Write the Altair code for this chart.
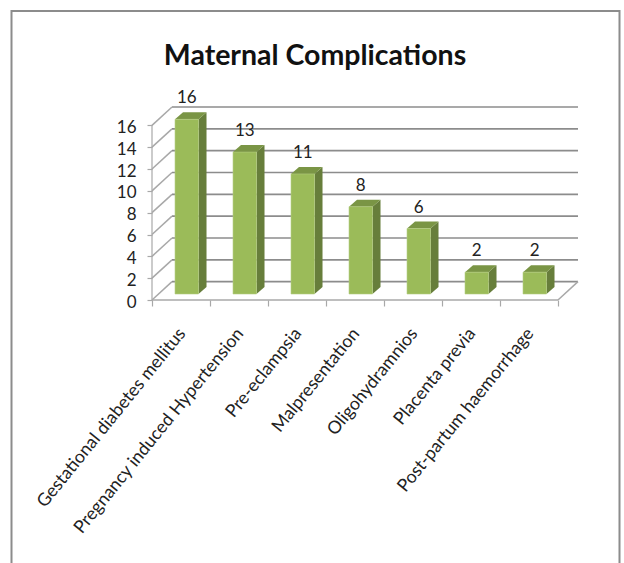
import altair as alt
import pandas as pd

# Maternal complication counts
title_text = "Maternal Complications"
categories = ["Gestational diabetes mellitus", "Pregnancy induced Hypertension", "Pre-eclampsia",
              "Malpresentation", "Oligohydramnios", "Placenta previa", "Post-partum haemorrhage"]
counts = [16, 13, 11, 8, 6, 2, 2]
y_ticks = [0, 2, 4, 6, 8, 10, 12, 14, 16]

# Pseudo-3D box geometry, in data units
WALL_DX, WALL_DY = 0.345, 1.68
BAR_LEFT, BAR_W = 0.397, 0.405
BAR_LIFT, BAR_DX, BAR_DY = 0.55, 0.138, 0.64
n = len(categories)

x_scale = alt.Scale(domain=[0, n + WALL_DX], nice=False, zero=False)
y_scale = alt.Scale(domain=[0, 16 + WALL_DY], nice=False, zero=False)
GRID = "#8c8c8c"
LIGHT = "#a8a8a8"
FONT = "Lato"

x_axis = alt.Axis(values=list(range(n + 1)), labels=False, domain=False, grid=False,
                  tickColor=LIGHT, tickSize=6, tickWidth=1.2)
y_axis = alt.Axis(values=y_ticks, domain=False, grid=False, tickColor=LIGHT, tickSize=5,
                  tickWidth=1.2, labelFont=FONT, labelFontSize=17, labelColor="#222222",
                  labelPadding=11, labelOffset=2)


def X(field="x"):
    return alt.X(field, type="quantitative", scale=x_scale, axis=x_axis, title=None)


def Y(field="y"):
    return alt.Y(field, type="quantitative", scale=y_scale, axis=y_axis, title=None)


# Back-wall gridlines and the slanted segments joining them to the front axis
wall = pd.DataFrame({"y": y_ticks})
wall["x"], wall["x2"] = WALL_DX, n + WALL_DX
wall["y"] = wall["y"] + WALL_DY
back_grid = alt.Chart(wall).mark_rule(color=GRID, strokeWidth=1.6).encode(
    x=X(), x2="x2", y=Y())

slant = pd.DataFrame(
    [{"k": v, "x": 0, "y": v} for v in y_ticks]
    + [{"k": v, "x": WALL_DX, "y": v + WALL_DY} for v in y_ticks]
    + [{"k": "end", "x": n, "y": 0}, {"k": "end", "x": n + WALL_DX, "y": WALL_DY}])
slants = alt.Chart(slant).mark_line(color=LIGHT, strokeWidth=1.5).encode(
    x=X(), y=Y(), detail="k:N")

# Front axes: vertical value axis and the horizontal floor edge
axes_base = alt.Chart(pd.DataFrame({"x": [0], "y": [0], "y2": [16], "x2": [n]}))
front_v = axes_base.mark_rule(color=LIGHT, strokeWidth=1.2).encode(x=X(), y=Y(), y2="y2")
front_h = axes_base.mark_rule(color=LIGHT, strokeWidth=1.6).encode(x=X(), x2="x2", y=Y())

# Bar faces
rows = pd.DataFrame({"name": categories, "v": counts})
rows["l"] = [i + BAR_LEFT for i in range(n)]
rows["r"] = rows["l"] + BAR_W
rows["c"] = rows["l"] + BAR_W / 2
rows["b"] = BAR_LIFT
rows["t"] = rows["v"] + BAR_LIFT
rows["back"] = rows["t"] + BAR_DY
rows["mid"] = [i + 0.5 for i in range(n)]
rows["zero"] = 0

front = alt.Chart(rows).mark_rect(color="#9BBB59", stroke="#b4cc82", strokeWidth=0.6).encode(
    x=X("l"), x2="r", y=Y("b"), y2="t")

side_rows = []
for _, r in rows.iterrows():
    side_rows.append({"k": r["name"], "x": r["r"], "lo": r["b"], "hi": r["t"]})
    side_rows.append({"k": r["name"], "x": r["r"] + BAR_DX, "lo": r["b"] + BAR_DY, "hi": r["back"]})
side = alt.Chart(pd.DataFrame(side_rows)).mark_area(color="#677E3B", orient="vertical").encode(
    x=X(), y=Y("lo"), y2="hi", detail="k:N")

top_rows = []
for _, r in rows.iterrows():
    top_rows.append({"k": r["name"], "y": r["t"], "x": r["l"], "x2": r["r"]})
    top_rows.append({"k": r["name"], "y": r["back"], "x": r["l"] + BAR_DX, "x2": r["r"] + BAR_DX})
top = alt.Chart(pd.DataFrame(top_rows)).mark_area(color="#7A9545", orient="horizontal").encode(
    y=Y(), x=X(), x2="x2", detail="k:N")

value_labels = alt.Chart(rows).mark_text(
    font=FONT, fontSize=17, color="#222222", baseline="middle", dy=-14).encode(
    x=X("c"), y=Y("back"), text="v:Q")

# Rotated text: dx runs along the baseline, dy across it
name_labels = alt.Chart(rows).mark_text(
    font=FONT, fontSize=17.8, color="#222222", align="right", baseline="middle",
    angle=309, dx=-23, dy=20.5).encode(x=X("mid"), y=Y("zero"), text="name:N")

# Heading, placed as text so it does not shift with the frame's bounds
heading = alt.Chart(pd.DataFrame({"t": [title_text]})).mark_text(
    font=FONT, fontSize=28.5, fontWeight="bold", color="#111111", align="center",
    baseline="alphabetic").encode(x=alt.value(163), y=alt.value(-42), text="t:N")

# Outer chart frame, running off the lower edge of the page
frame = alt.Chart(pd.DataFrame({"f": [0]})).mark_rect(
    fill=None, stroke="#8c8c8c", strokeWidth=2).encode(
    x=alt.value(-140.5), x2=alt.value(467.5), y=alt.value(-96), y2=alt.value(480))

chart = alt.layer(
    frame, back_grid, slants, front_v, front_h, side, top, front, value_labels, name_labels, heading
).properties(
    width=426, height=193,
    padding={"left": 152, "top": 107, "right": 46, "bottom": 263},
    autosize=alt.AutoSizeParams(type="none"),
).configure_view(stroke=None)

chart.save("out.html", embed_options={"renderer": "svg", "actions": False})
